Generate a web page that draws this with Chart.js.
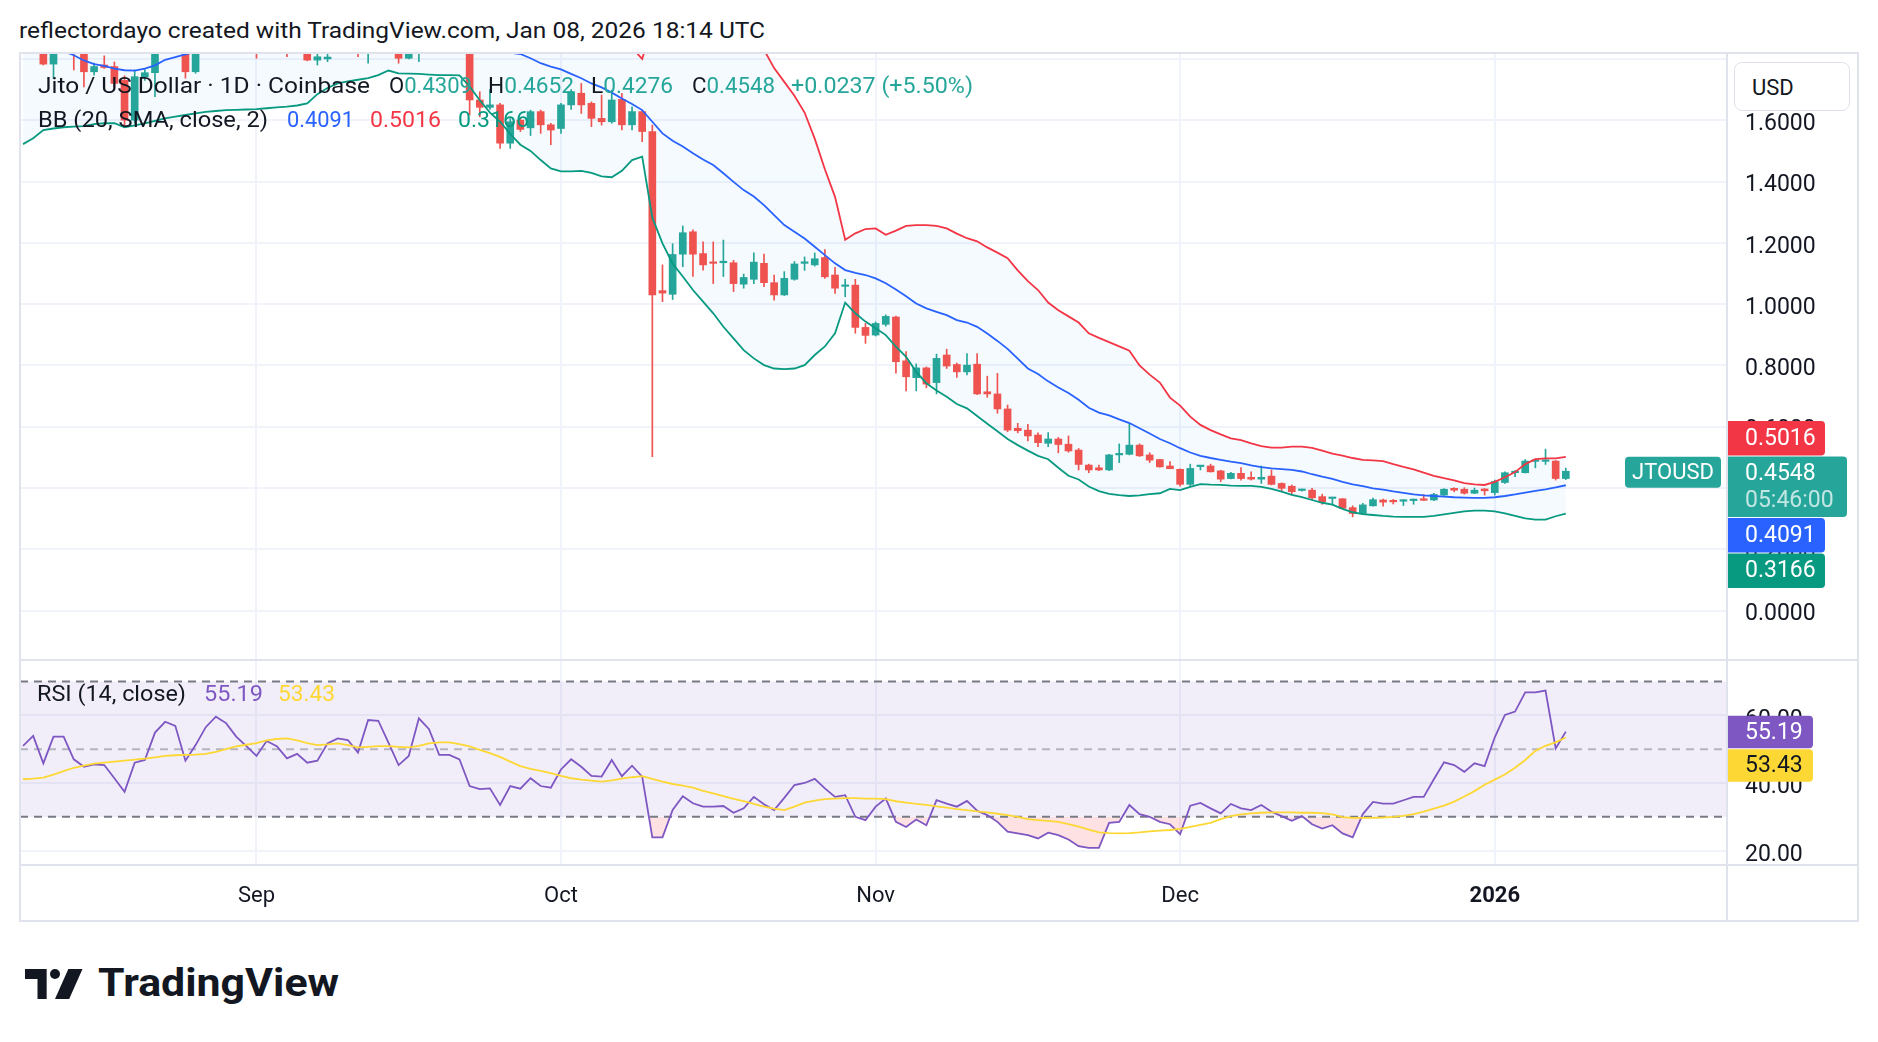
<!DOCTYPE html>
<html>
<head>
<meta charset="utf-8">
<title>JTOUSD - TradingView</title>
<script src="https://cdn.jsdelivr.net/npm/chart.js@4.4.1/dist/chart.umd.min.js"></script>
<style>
  html, body { margin: 0; padding: 0; background: #fff; }
  body { width: 1878px; height: 1042px; position: relative; overflow: hidden; font-family: Roboto, "Noto Sans", sans-serif; color: #131722; }
  .pane { position: absolute; z-index: 1; }
  .rule { position: absolute; background: #e0e3eb; z-index: 3; }
  .txt { position: absolute; white-space: nowrap; line-height: 1.2; transform-origin: 0 50%; z-index: 4; }
  #usd { position: absolute; left: 1734px; top: 62px; width: 114px; height: 47px; border: 1.5px solid #e0e3eb; border-radius: 8px; background: #fff; z-index: 4; box-sizing: content-box; }
  #logo { position: absolute; left: 24px; top: 969px; z-index: 4; }
</style>
</head>
<body>

<div class="pane" style="left:20px;top:54px;width:1838px;height:606px"><canvas id="priceChart" width="1838" height="606"></canvas></div>
<div class="pane" style="left:20px;top:660px;width:1838px;height:261px"><canvas id="rsiChart" width="1838" height="261"></canvas></div>

<!-- frame -->
<div class="rule" style="left:19px;top:52px;width:1840px;height:2px"></div>
<div class="rule" style="left:19px;top:52px;width:1.5px;height:870px"></div>
<div class="rule" style="left:1857px;top:52px;width:2px;height:870px"></div>
<div class="rule" style="left:19px;top:920px;width:1840px;height:2px"></div>
<div class="rule" style="left:1726px;top:52px;width:2px;height:870px"></div>
<div class="rule" style="left:19px;top:659px;width:1840px;height:2px"></div>
<div class="rule" style="left:19px;top:864px;width:1840px;height:2px"></div>

<div id="usd"></div>

<svg id="logo" width="62" height="30" viewBox="0 0 36 18">
  <path d="M13 18H7.5V6H0V0h13z" fill="#131722"/>
  <circle cx="18" cy="3" r="3" fill="#131722"/>
  <path d="M26 0h8.5l-8 18H18z" fill="#131722"/>
</svg>

<script>
// Jito / US Dollar, 1D, Coinbase
const dates = [
  '2025-08-09','2025-08-10','2025-08-11','2025-08-12','2025-08-13','2025-08-14','2025-08-15','2025-08-16','2025-08-17','2025-08-18','2025-08-19','2025-08-20','2025-08-21','2025-08-22','2025-08-23','2025-08-24','2025-08-25','2025-08-26','2025-08-27','2025-08-28','2025-08-29','2025-08-30','2025-08-31',
  '2025-09-01','2025-09-02','2025-09-03','2025-09-04','2025-09-05','2025-09-06','2025-09-07','2025-09-08','2025-09-09','2025-09-10','2025-09-11','2025-09-12','2025-09-13','2025-09-14','2025-09-15','2025-09-16','2025-09-17','2025-09-18','2025-09-19','2025-09-20','2025-09-21','2025-09-22','2025-09-23','2025-09-24','2025-09-25','2025-09-26','2025-09-27','2025-09-28','2025-09-29','2025-09-30',
  '2025-10-01','2025-10-02','2025-10-03','2025-10-04','2025-10-05','2025-10-06','2025-10-07','2025-10-08','2025-10-09','2025-10-10','2025-10-11','2025-10-12','2025-10-13','2025-10-14','2025-10-15','2025-10-16','2025-10-17','2025-10-18','2025-10-19','2025-10-20','2025-10-21','2025-10-22','2025-10-23','2025-10-24','2025-10-25','2025-10-26','2025-10-27','2025-10-28','2025-10-29','2025-10-30','2025-10-31',
  '2025-11-01','2025-11-02','2025-11-03','2025-11-04','2025-11-05','2025-11-06','2025-11-07','2025-11-08','2025-11-09','2025-11-10','2025-11-11','2025-11-12','2025-11-13','2025-11-14','2025-11-15','2025-11-16','2025-11-17','2025-11-18','2025-11-19','2025-11-20','2025-11-21','2025-11-22','2025-11-23','2025-11-24','2025-11-25','2025-11-26','2025-11-27','2025-11-28','2025-11-29','2025-11-30',
  '2025-12-01','2025-12-02','2025-12-03','2025-12-04','2025-12-05','2025-12-06','2025-12-07','2025-12-08','2025-12-09','2025-12-10','2025-12-11','2025-12-12','2025-12-13','2025-12-14','2025-12-15','2025-12-16','2025-12-17','2025-12-18','2025-12-19','2025-12-20','2025-12-21','2025-12-22','2025-12-23','2025-12-24','2025-12-25','2025-12-26','2025-12-27','2025-12-28','2025-12-29','2025-12-30','2025-12-31',
  '2026-01-01','2026-01-02','2026-01-03','2026-01-04','2026-01-05','2026-01-06','2026-01-07','2026-01-08'
];

const opens = [
  1.88, 1.92, 1.86, 1.783, 1.85, 1.86, 1.83, 1.758, 1.78, 1.775, 1.73, 1.60, 1.742, 1.755, 1.84, 1.87, 1.85, 1.758, 1.84, 1.88, 1.91, 1.87, 1.90,
  1.88, 1.84, 1.87, 1.91, 1.85, 1.86, 1.796, 1.80, 1.82, 1.87, 1.89, 1.83, 1.86, 1.90, 1.88, 1.802, 1.84, 1.87, 1.90, 1.88, 1.87, 1.85, 1.666, 1.642, 1.65, 1.525, 1.60, 1.575, 1.628, 1.585,
  1.573, 1.65, 1.688, 1.655, 1.606, 1.595, 1.668, 1.585, 1.628, 1.563, 1.044, 1.032, 1.163, 1.236, 1.165, 1.137, 1.135, 1.135, 1.065, 1.081, 1.133, 1.07, 1.03, 1.081, 1.133, 1.128, 1.152, 1.095, 1.058, 1.062, 0.924,
  0.899, 0.934, 0.958, 0.815, 0.76, 0.792, 0.744, 0.834, 0.803, 0.779, 0.804, 0.714, 0.707, 0.658, 0.595, 0.589, 0.573, 0.546, 0.56, 0.543, 0.524, 0.475, 0.466, 0.459, 0.508, 0.51, 0.54, 0.508, 0.493, 0.472,
  0.461, 0.412, 0.47, 0.472, 0.456, 0.431, 0.448, 0.435, 0.429, 0.439, 0.415, 0.406, 0.392, 0.393, 0.372, 0.366, 0.365, 0.336, 0.317, 0.342, 0.361, 0.36, 0.357, 0.359, 0.364, 0.361, 0.377, 0.399, 0.396, 0.383, 0.397,
  0.385, 0.418, 0.45, 0.45, 0.487, 0.487, 0.488, 0.4309
];
const highs = [
  1.95, 1.96, 1.88, 1.87, 1.90, 1.88, 1.85, 1.786, 1.81, 1.79, 1.745, 1.764, 1.765, 1.86, 1.90, 1.92, 1.87, 1.86, 1.90, 1.93, 1.95, 1.92, 1.94,
  1.91, 1.90, 1.93, 1.93, 1.88, 1.87, 1.84, 1.85, 1.89, 1.92, 1.91, 1.88, 1.92, 1.96, 1.90, 1.86, 1.88, 1.93, 1.95, 1.92, 1.90, 1.87, 1.693, 1.70, 1.655, 1.605, 1.605, 1.633, 1.633, 1.59,
  1.655, 1.70, 1.72, 1.66, 1.682, 1.698, 1.688, 1.644, 1.633, 1.584, 1.128, 1.197, 1.255, 1.242, 1.203, 1.203, 1.209, 1.143, 1.098, 1.167, 1.163, 1.095, 1.106, 1.139, 1.154, 1.167, 1.178, 1.12, 1.081, 1.081, 0.937,
  0.942, 0.965, 0.961, 0.845, 0.805, 0.795, 0.837, 0.853, 0.808, 0.839, 0.839, 0.765, 0.774, 0.671, 0.611, 0.608, 0.58, 0.581, 0.565, 0.57, 0.529, 0.478, 0.475, 0.51, 0.544, 0.609, 0.544, 0.515, 0.494, 0.486,
  0.463, 0.478, 0.473, 0.478, 0.458, 0.451, 0.467, 0.453, 0.472, 0.459, 0.417, 0.41, 0.397, 0.399, 0.38, 0.369, 0.366, 0.342, 0.35, 0.367, 0.364, 0.363, 0.362, 0.364, 0.379, 0.383, 0.398, 0.401, 0.401, 0.4, 0.398,
  0.426, 0.453, 0.457, 0.493, 0.493, 0.527, 0.49, 0.4652
];
const lows = [
  1.84, 1.83, 1.78, 1.737, 1.82, 1.764, 1.709, 1.747, 1.769, 1.709, 1.584, 1.59, 1.73, 1.677, 1.82, 1.83, 1.737, 1.753, 1.825, 1.85, 1.86, 1.83, 1.86,
  1.802, 1.82, 1.84, 1.807, 1.82, 1.794, 1.78, 1.791, 1.818, 1.84, 1.807, 1.786, 1.83, 1.87, 1.786, 1.80, 1.791, 1.85, 1.86, 1.83, 1.82, 1.617, 1.611, 1.635, 1.508, 1.508, 1.563, 1.55, 1.557, 1.52,
  1.557, 1.635, 1.622, 1.579, 1.584, 1.59, 1.568, 1.568, 1.53, 0.502, 1.008, 1.015, 1.122, 1.09, 1.111, 1.067, 1.09, 1.041, 1.052, 1.067, 1.057, 1.013, 1.028, 1.078, 1.11, 1.124, 1.084, 1.035, 1.024, 0.905, 0.872,
  0.896, 0.928, 0.775, 0.717, 0.717, 0.727, 0.707, 0.79, 0.761, 0.769, 0.705, 0.696, 0.644, 0.584, 0.58, 0.554, 0.535, 0.535, 0.515, 0.517, 0.459, 0.45, 0.457, 0.457, 0.483, 0.508, 0.503, 0.483, 0.468, 0.463,
  0.406, 0.406, 0.459, 0.452, 0.421, 0.43, 0.426, 0.426, 0.415, 0.41, 0.388, 0.38, 0.39, 0.363, 0.347, 0.348, 0.333, 0.306, 0.315, 0.341, 0.341, 0.348, 0.343, 0.347, 0.359, 0.359, 0.376, 0.388, 0.38, 0.382, 0.377,
  0.377, 0.415, 0.437, 0.449, 0.466, 0.477, 0.426, 0.4276
];
const closes = [
  1.92, 1.86, 1.783, 1.85, 1.86, 1.82, 1.758, 1.775, 1.772, 1.72, 1.60, 1.742, 1.755, 1.84, 1.87, 1.85, 1.758, 1.84, 1.88, 1.91, 1.87, 1.90, 1.88,
  1.84, 1.87, 1.91, 1.85, 1.86, 1.796, 1.807, 1.806, 1.87, 1.89, 1.83, 1.86, 1.90, 1.88, 1.802, 1.84, 1.87, 1.90, 1.88, 1.87, 1.85, 1.666, 1.642, 1.65, 1.525, 1.595, 1.57, 1.628, 1.585, 1.568,
  1.65, 1.693, 1.65, 1.606, 1.595, 1.666, 1.585, 1.628, 1.563, 1.03, 1.036, 1.162, 1.233, 1.163, 1.128, 1.133, 1.14, 1.067, 1.087, 1.137, 1.07, 1.03, 1.084, 1.131, 1.138, 1.148, 1.089, 1.052, 1.062, 0.924, 0.898,
  0.937, 0.96, 0.812, 0.763, 0.792, 0.739, 0.823, 0.798, 0.779, 0.801, 0.707, 0.707, 0.658, 0.589, 0.587, 0.57, 0.548, 0.56, 0.542, 0.521, 0.477, 0.459, 0.459, 0.508, 0.513, 0.54, 0.505, 0.491, 0.469, 0.463,
  0.412, 0.464, 0.473, 0.453, 0.429, 0.448, 0.431, 0.429, 0.435, 0.412, 0.399, 0.388, 0.395, 0.368, 0.355, 0.368, 0.334, 0.317, 0.345, 0.362, 0.354, 0.355, 0.361, 0.363, 0.36, 0.379, 0.396, 0.393, 0.383, 0.393, 0.391,
  0.421, 0.45, 0.455, 0.488, 0.491, 0.491, 0.4311, 0.4548
];

// Bollinger Bands (20, SMA, close, 2)
const bbUpper = [
  2.278, 2.229, 2.162, 2.117, 2.073, 2.045, 2.009, 1.979, 1.964, 1.946, 1.949, 1.941, 1.946, 1.96, 1.984, 1.994, 2.013, 2.024, 2.039, 2.056, 2.067, 2.076, 2.085,
  2.092, 2.093, 2.094, 2.096, 2.096, 2.085, 2.051, 2.027, 2.008, 2.003, 2.0, 1.995, 1.985, 1.966, 1.971, 1.968, 1.969, 1.971, 1.973, 1.969, 1.964, 1.985, 2.016, 2.036, 2.054, 2.08, 2.105, 2.101, 2.102, 2.107,
  2.099, 2.069, 2.039, 2.012, 1.997, 1.966, 1.91, 1.836, 1.80, 1.91, 1.92, 1.93, 1.94, 1.94, 1.935, 1.935, 1.93, 1.91, 1.895, 1.875, 1.83, 1.77, 1.725, 1.68, 1.625, 1.54, 1.44, 1.35, 1.21, 1.231, 1.245,
  1.247, 1.226, 1.24, 1.255, 1.258, 1.258, 1.255, 1.247, 1.23, 1.215, 1.205, 1.185, 1.168, 1.15, 1.11, 1.075, 1.046, 1.005, 0.98, 0.96, 0.94, 0.905, 0.89, 0.876, 0.862, 0.848, 0.80, 0.77, 0.744, 0.695,
  0.669, 0.633, 0.606, 0.589, 0.575, 0.562, 0.556, 0.546, 0.537, 0.532, 0.532, 0.535, 0.535, 0.531, 0.522, 0.512, 0.506, 0.498, 0.492, 0.49, 0.488, 0.478, 0.469, 0.461, 0.45, 0.44, 0.432, 0.425, 0.416, 0.412, 0.41,
  0.42, 0.435, 0.452, 0.478, 0.494, 0.497, 0.497, 0.5016
];
const bbBasis = [
  1.90, 1.885, 1.865, 1.845, 1.825, 1.812, 1.795, 1.783, 1.777, 1.768, 1.763, 1.762, 1.768, 1.779, 1.797, 1.806, 1.815, 1.823, 1.833, 1.843, 1.85, 1.855, 1.86,
  1.864, 1.866, 1.868, 1.87, 1.872, 1.87, 1.868, 1.866, 1.864, 1.865, 1.866, 1.866, 1.866, 1.864, 1.862, 1.86, 1.86, 1.86, 1.86, 1.858, 1.855, 1.845, 1.838, 1.832, 1.826, 1.82, 1.816, 1.802, 1.786, 1.775,
  1.766, 1.751, 1.737, 1.72, 1.707, 1.69, 1.671, 1.653, 1.633, 1.595, 1.557, 1.533, 1.514, 1.492, 1.472, 1.454, 1.427, 1.399, 1.372, 1.351, 1.323, 1.29, 1.258, 1.236, 1.214, 1.187, 1.16, 1.133, 1.111, 1.102, 1.095,
  1.084, 1.068, 1.048, 1.026, 1.002, 0.986, 0.975, 0.964, 0.948, 0.94, 0.926, 0.904, 0.88, 0.854, 0.822, 0.79, 0.772, 0.748, 0.728, 0.71, 0.688, 0.662, 0.646, 0.637, 0.624, 0.612, 0.595, 0.578, 0.56, 0.546,
  0.53, 0.516, 0.505, 0.498, 0.492, 0.486, 0.481, 0.474, 0.468, 0.464, 0.462, 0.459, 0.454, 0.445, 0.437, 0.43, 0.42, 0.412, 0.406, 0.399, 0.395, 0.389, 0.384, 0.379, 0.376, 0.374, 0.372, 0.37, 0.369, 0.368, 0.368,
  0.37, 0.374, 0.379, 0.385, 0.391, 0.396, 0.402, 0.4091
];
const bbLower = [
  1.522, 1.541, 1.568, 1.573, 1.577, 1.579, 1.581, 1.587, 1.59, 1.59, 1.577, 1.583, 1.59, 1.598, 1.606, 1.612, 1.617, 1.622, 1.627, 1.63, 1.633, 1.634, 1.635,
  1.636, 1.639, 1.642, 1.644, 1.648, 1.655, 1.685, 1.705, 1.72, 1.727, 1.732, 1.737, 1.747, 1.762, 1.753, 1.752, 1.751, 1.749, 1.747, 1.747, 1.746, 1.71, 1.665, 1.625, 1.595, 1.555, 1.52, 1.50, 1.47, 1.443,
  1.433, 1.433, 1.435, 1.428, 1.417, 1.414, 1.435, 1.47, 1.481, 1.282, 1.198, 1.132, 1.09, 1.046, 1.008, 0.97, 0.926, 0.888, 0.85, 0.823, 0.801, 0.79, 0.788, 0.79, 0.801, 0.834, 0.862, 0.905, 1.005, 0.97, 0.943,
  0.921, 0.899, 0.861, 0.828, 0.779, 0.742, 0.718, 0.698, 0.674, 0.66, 0.635, 0.61, 0.585, 0.56, 0.54, 0.522, 0.505, 0.494, 0.466, 0.44, 0.428, 0.405, 0.39, 0.381, 0.377, 0.374, 0.376, 0.38, 0.383, 0.397,
  0.393, 0.404, 0.413, 0.411, 0.41, 0.408, 0.407, 0.407, 0.404, 0.397, 0.388, 0.378, 0.37, 0.361, 0.352, 0.346, 0.332, 0.321, 0.315, 0.312, 0.309, 0.307, 0.306, 0.306, 0.306, 0.309, 0.314, 0.319, 0.324, 0.326, 0.326,
  0.324, 0.317, 0.309, 0.301, 0.297, 0.297, 0.308, 0.3166
];

// RSI (14, close) and its moving average
const rsiValues = [
  51.0, 53.9, 45.8, 53.7, 53.7, 47.0, 44.8, 45.5, 45.3, 41.4, 37.4, 46.0, 46.8, 54.9, 58.1, 56.9, 46.6, 51.2, 56.5, 59.6, 57.7, 53.7, 50.9,
  48.0, 52.4, 50.9, 47.3, 48.6, 46.0, 46.6, 51.7, 53.2, 52.7, 49.0, 58.6, 58.4, 51.9, 45.3, 48.0, 59.1, 55.9, 48.3, 48.3, 47.0, 39.1, 38.2, 38.4, 33.5, 39.1, 38.3, 41.4, 39.1, 38.6,
  44.0, 47.0, 44.8, 42.1, 41.9, 46.8, 42.0, 45.1, 41.9, 23.9, 23.9, 32.0, 36.1, 34.0, 33.0, 33.0, 33.2, 31.2, 32.5, 35.9, 33.7, 32.0, 35.6, 39.4, 40.0, 41.2, 38.4, 35.9, 36.4, 30.0, 29.0,
  33.0, 35.4, 28.5, 27.0, 29.2, 27.5, 34.9, 33.9, 33.0, 34.7, 31.8, 30.5, 28.5, 25.6, 25.1, 24.6, 23.6, 25.3, 24.6, 23.3, 21.3, 20.8, 20.8, 28.2, 28.5, 33.5, 30.8, 30.0, 28.5, 27.8,
  24.9, 33.3, 34.1, 32.5, 31.0, 33.8, 32.5, 32.0, 33.5, 31.5, 30.2, 28.8, 30.2, 27.8, 26.5, 27.5, 25.1, 23.9, 30.8, 34.4, 33.9, 33.9, 34.9, 35.9, 35.9, 41.1, 46.1, 45.3, 43.3, 45.8, 45.0,
  53.5, 60.1, 61.1, 66.8, 66.8, 67.3, 50.2, 55.19
];
const rsiMa = [
  41.1, 41.3, 41.6, 42.5, 43.5, 44.5, 45.1, 45.7, 46.0, 46.3, 46.6, 46.9, 47.2, 47.6, 48.0, 48.2, 48.3, 48.4, 48.6, 49.2, 50.0, 50.8, 51.3,
  51.8, 52.6, 53.0, 53.2, 52.6, 51.8, 51.2, 51.4, 51.7, 51.2, 50.5, 50.7, 50.9, 50.9, 50.7, 50.5, 51.0, 51.7, 52.0, 52.0, 51.5, 50.8, 49.8, 48.8, 47.7, 46.3, 45.0, 44.2, 43.6, 42.9,
  42.1, 41.4, 41.0, 40.7, 40.4, 40.8, 41.3, 41.7, 42.0, 41.2, 40.4, 39.7, 39.2, 38.6, 37.7, 36.9, 36.1, 35.3, 34.6, 33.8, 33.0, 32.4, 32.0, 33.0, 34.2, 34.8, 35.2, 35.4, 35.5, 35.5, 35.4,
  35.4, 35.2, 34.6, 34.2, 33.8, 33.5, 33.1, 32.7, 32.3, 32.0, 31.6, 31.3, 30.9, 30.5, 30.0, 29.3, 29.0, 28.8, 28.5, 27.8, 27.1, 26.2, 25.4, 25.2, 25.1, 25.2, 25.4, 25.7, 25.9, 26.1,
  26.4, 27.0, 27.6, 28.2, 29.3, 30.2, 30.7, 31.0, 31.2, 31.3, 31.3, 31.3, 31.2, 31.2, 31.1, 30.7, 29.9, 29.7, 29.7, 29.7, 29.8, 30.0, 30.3, 30.8, 31.5, 32.4, 33.3, 34.5, 36.0, 37.6, 39.5,
  41.0, 42.5, 44.5, 46.8, 49.5, 51.0, 52.0, 53.43
];
const rsiBands = [70, 50, 30];

// axes
const monthStarts = ['2025-09-01', '2025-10-01', '2025-11-01', '2025-12-01', '2026-01-01'];
const monthLabels = ['Sep', 'Oct', 'Nov', 'Dec', '2026'];
const priceTicks = [0, 0.2, 0.4, 0.6, 0.8, 1.0, 1.2, 1.4, 1.6, 1.8];
const rsiTicks = [20, 40, 60];

// visible window (days from Sep 1) and value ranges of both panes
const viewFrom = -23.3, viewTo = 144.88;
const priceBottom = -0.161, priceTop = 1.816;
const rsiBottom = 15.75, rsiTop = 76.36;

const FONT = 'Roboto, "Noto Sans", sans-serif';
const upColor = '#26a69a', downColor = '#ef5350';
const gridColor = '#f0f3fa';
const axisWidth = 131;
Chart.defaults.font.family = FONT;

const epoch = Date.UTC(2025, 8, 1);
const dayOf = d => (Date.parse(d) - epoch) / 864e5;
const xs = dates.map(dayOf);
const monthXs = monthStarts.map(dayOf);
const pts = arr => arr.map((v, i) => ({ x: xs[i], y: v }));
const last = closes.length - 1;
const candleColors = closes.map((c, i) => c >= opens[i] ? upColor : downColor);

// price / indicator tags on the right scale
function tagPlugin(tags, opts) {
  return {
    id: 'tags',
    afterDraw(chart) {
      const ctx = chart.ctx;
      const scale = chart.scales.y;
      const x0 = scale.left + 1;
      tags.forEach(t => {
        t.y = scale.getPixelForValue(t.value);
        t.h = t.sub ? opts.h + 26 : opts.h;
      });
      const main = tags.find(t => t.main);
      main.top = main.y - opts.h / 2 + opts.shift;
      let edge = main.top;
      tags.filter(t => !t.main && t.y < main.y).sort((a, b) => b.y - a.y).forEach(t => {
        const bottom = Math.min(t.y + t.h / 2, edge - 1);
        t.top = bottom - t.h;
        edge = t.top;
      });
      edge = main.top + main.h;
      tags.filter(t => !t.main && t.y >= main.y).sort((a, b) => a.y - b.y).forEach(t => {
        t.top = Math.max(t.y - t.h / 2, edge + 1);
        edge = t.top + t.h;
      });

      ctx.save();
      ctx.font = '23px ' + FONT;
      ctx.textBaseline = 'middle';
      tags.forEach(t => {
        ctx.fillStyle = t.color;
        ctx.beginPath();
        ctx.roundRect(x0, t.top, t.w, t.h, [0, 4, 4, 0]);
        ctx.fill();
        ctx.fillStyle = t.textColor || '#ffffff';
        ctx.textAlign = 'left';
        ctx.fillText(t.value.toFixed(opts.digits), scale.left + 18, t.top + opts.h / 2 + 1);
        if (t.sub) {
          ctx.fillStyle = 'rgba(255,255,255,0.72)';
          ctx.fillText(t.sub, scale.left + 18, t.top + opts.h / 2 + 28);
        }
      });
      if (opts.symbol) {
        const w = 96, h = 31;
        ctx.fillStyle = main.color;
        ctx.beginPath();
        ctx.roundRect(scale.left - 6 - w, main.y - h / 2 + 1, w, h, 4);
        ctx.fill();
        ctx.fillStyle = '#ffffff';
        ctx.font = '22px ' + FONT;
        ctx.textAlign = 'center';
        ctx.fillText(opts.symbol, scale.left - 6 - w / 2, main.y + 2);
      }
      ctx.restore();
    }
  };
}

const bbFill = 'rgba(33,150,243,0.05)';

new Chart(document.getElementById('priceChart'), {
  type: 'bar',
  data: {
    datasets: [
      { type: 'line', data: pts(bbUpper), borderColor: '#f23645', borderWidth: 1.8, pointRadius: 0, fill: { target: 2, above: bbFill, below: bbFill }, order: 1, clip: 0 },
      { type: 'line', data: pts(bbBasis), borderColor: '#2962ff', borderWidth: 1.8, pointRadius: 0, fill: false, order: 1, clip: 0 },
      { type: 'line', data: pts(bbLower), borderColor: '#089981', borderWidth: 1.8, pointRadius: 0, fill: false, order: 1, clip: 0 },
      { type: 'bar', data: xs.map((x, i) => ({ x, y: [lows[i], highs[i]] })), backgroundColor: candleColors, barThickness: 1, grouped: false, order: 3, clip: 0 },
      { type: 'bar', data: xs.map((x, i) => ({ x, y: [opens[i], closes[i]] })), backgroundColor: candleColors, barThickness: 7, minBarLength: 1.5, grouped: false, order: 2, clip: 0 }
    ]
  },
  options: {
    responsive: false,
    animation: false,
    devicePixelRatio: 1,
    layout: { padding: 0 },
    events: [],
    plugins: {
      legend: { display: false },
      tooltip: { enabled: false },
      filler: { drawTime: 'beforeDatasetsDraw' }
    },
    scales: {
      x: {
        type: 'linear', min: viewFrom, max: viewTo, offset: false,
        afterBuildTicks: s => { s.ticks = monthXs.map(v => ({ value: v })); },
        afterFit: s => { s.height = 0; s.paddingLeft = 0; s.paddingRight = 0; },
        ticks: { display: false },
        grid: { color: gridColor, lineWidth: 2, drawTicks: false, offset: false },
        border: { display: false }
      },
      y: {
        type: 'linear', position: 'right', min: priceBottom, max: priceTop,
        afterBuildTicks: s => { s.ticks = priceTicks.map(v => ({ value: v })); },
        afterFit: s => { s.width = axisWidth; s.paddingTop = 0; s.paddingBottom = 0; },
        ticks: {
          callback: v => v > 1.7 ? '' : v.toFixed(4),
          color: '#131722', font: { size: 23 }, padding: 18, crossAlign: 'near', autoSkip: false, labelOffset: 4
        },
        grid: { color: gridColor, lineWidth: 2, drawTicks: false },
        border: { display: false }
      }
    }
  },
  plugins: [tagPlugin([
    { value: bbUpper[last], color: '#f23645', w: 97 },
    { value: closes[last], color: closes[last] >= opens[last] ? upColor : downColor, w: 119, main: true, sub: '05:46:00' },
    { value: bbBasis[last], color: '#2962ff', w: 97 },
    { value: bbLower[last], color: '#089981', w: 97 }
  ], { h: 34.5, digits: 4, symbol: 'JTOUSD', shift: 2.5 })]
});

const band = v => [{ x: viewFrom, y: v }, { x: viewTo, y: v }];
const bandFill = 'rgba(126,87,194,0.1)';

new Chart(document.getElementById('rsiChart'), {
  type: 'line',
  data: {
    datasets: [
      { data: band(rsiBands[0]), borderColor: '#787b86', borderDash: [8, 6], borderWidth: 2, pointRadius: 0, fill: { target: 2, above: bandFill, below: bandFill }, order: 5 },
      { data: band(rsiBands[1]), borderColor: 'rgba(120,123,134,0.5)', borderDash: [8, 6], borderWidth: 2, pointRadius: 0, fill: false, order: 5 },
      { data: band(rsiBands[2]), borderColor: '#787b86', borderDash: [8, 6], borderWidth: 2, pointRadius: 0, fill: false, order: 5 },
      { data: pts(rsiValues), borderColor: '#7e57c2', borderWidth: 1.8, pointRadius: 0, fill: { target: { value: rsiBands[2] }, above: 'rgba(0,0,0,0)', below: 'rgba(242,54,69,0.15)' }, order: 2 },
      { data: pts(rsiMa), borderColor: '#fdd835', borderWidth: 1.8, pointRadius: 0, fill: false, order: 1 }
    ]
  },
  options: {
    responsive: false,
    animation: false,
    devicePixelRatio: 1,
    layout: { padding: 0 },
    events: [],
    plugins: {
      legend: { display: false },
      tooltip: { enabled: false },
      filler: { drawTime: 'beforeDatasetsDraw' }
    },
    scales: {
      x: {
        type: 'linear', min: viewFrom, max: viewTo, offset: false,
        afterBuildTicks: s => { s.ticks = monthXs.map(v => ({ value: v })); },
        afterFit: s => { s.height = 56; s.paddingLeft = 0; s.paddingRight = 0; },
        ticks: {
          callback: (v, i) => monthLabels[i],
          color: '#131722',
          font: c => ({ size: 22, weight: /^\d+$/.test(monthLabels[c.index] || '') ? 'bold' : 'normal' }),
          padding: 18, maxRotation: 0, autoSkip: false
        },
        grid: { color: gridColor, lineWidth: 2, drawTicks: false, offset: false },
        border: { display: false }
      },
      y: {
        type: 'linear', position: 'right', min: rsiBottom, max: rsiTop,
        afterBuildTicks: s => { s.ticks = rsiTicks.map(v => ({ value: v })); },
        afterFit: s => { s.width = axisWidth; s.paddingTop = 0; s.paddingBottom = 0; },
        ticks: { callback: v => v.toFixed(2), color: '#131722', font: { size: 23 }, padding: 18, crossAlign: 'near', autoSkip: false, labelOffset: 4.5 },
        grid: { color: gridColor, lineWidth: 2, drawTicks: false },
        border: { display: false }
      }
    }
  },
  plugins: [tagPlugin([
    { value: rsiValues[last], color: '#7e57c2', w: 85, main: true },
    { value: rsiMa[last], color: '#fdd835', textColor: '#131722', w: 85 }
  ], { h: 32.5, digits: 2, shift: 0.5 })]
});

// text overlays: header, legends, currency, logo
function placeText(parts, left, cy, size, width, weight) {
  const el = document.createElement('div');
  el.className = 'txt';
  el.style.fontSize = size + 'px';
  if (weight) el.style.fontWeight = weight;
  parts.forEach(([t, c]) => {
    const s = document.createElement('span');
    s.textContent = t;
    s.style.color = c || '#131722';
    el.appendChild(s);
  });
  document.body.appendChild(el);
  const r = el.getBoundingClientRect();
  el.style.left = left + 'px';
  el.style.top = (cy - r.height / 2) + 'px';
  if (width) el.style.transform = 'scaleX(' + (width / r.width).toFixed(4) + ')';
}

const valColor = closes[last] >= opens[last] ? upColor : downColor;
const change = closes[last] - closes[last - 1];
const pct = change / closes[last - 1] * 100;
const sign = change >= 0 ? '+' : '−';

placeText([['reflectordayo created with TradingView.com, Jan 08, 2026 18:14 UTC']], 19, 31, 22, 746);

placeText([['Jito / US Dollar · 1D · Coinbase']], 38, 86.5, 22, 332);
placeText([['O'], [opens[last].toFixed(4), valColor]], 389, 86.5, 22, 83);
placeText([['H'], [highs[last].toFixed(4), valColor]], 488, 86.5, 22, 86);
placeText([['L'], [lows[last].toFixed(4), valColor]], 591, 86.5, 22, 82);
placeText([['C'], [closes[last].toFixed(4), valColor]], 692, 86.5, 22, 83);
placeText([[sign + Math.abs(change).toFixed(4) + ' (' + sign + Math.abs(pct).toFixed(2) + '%)', valColor]], 791, 86.5, 22, 182);

placeText([['BB (20, SMA, close, 2)']], 38, 120, 22, 230);
placeText([[bbBasis[last].toFixed(4), '#2962ff']], 287, 120, 22, 67);
placeText([[bbUpper[last].toFixed(4), '#f23645']], 370, 120, 22, 71);
placeText([[bbLower[last].toFixed(4), '#089981']], 458, 120, 22, 71);

placeText([['RSI (14, close)']], 37, 694, 22, 149);
placeText([[rsiValues[last].toFixed(2), '#7e57c2']], 204, 694, 22, 59);
placeText([[rsiMa[last].toFixed(2), '#fdd835']], 278, 694, 22, 57);

placeText([['USD']], 1752, 88, 22, 0);

placeText([['TradingView']], 98, 984, 38, 241, 'bold');
</script>
</body>
</html>
